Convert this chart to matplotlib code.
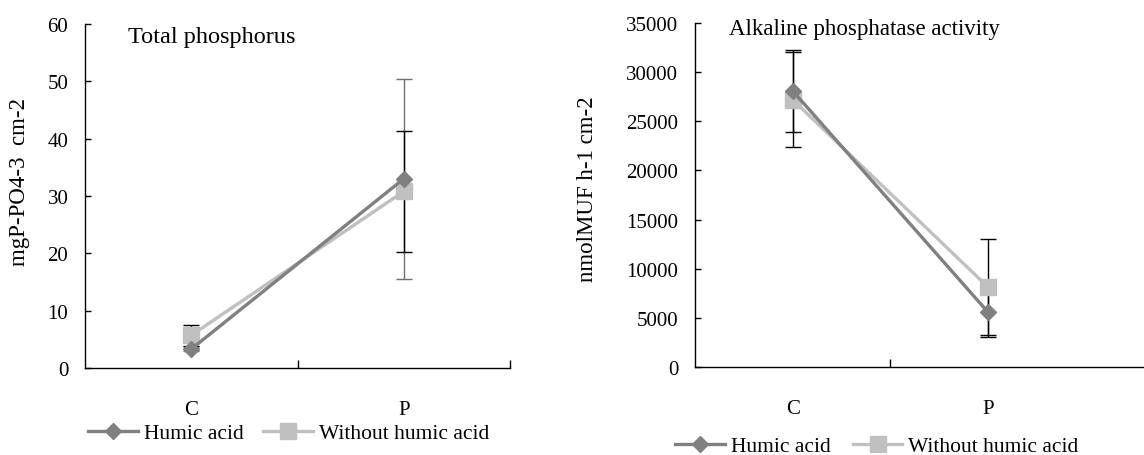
import numpy as np
import matplotlib.pyplot as plt
from matplotlib.lines import Line2D

plt.rcParams['font.family'] = ['Liberation Serif', 'DejaVu Serif']

# categories
cats = ["C", "P"]

# total phosphorus
tp_humic = [3.3, 33.0]
tp_humic_err = [0.3, 17.4]
tp_without = [5.7, 30.8]
tp_without_err = [1.8, 10.6]

# alkaline phosphatase activity
ap_humic = [28100, 5600]
ap_humic_err = [4200, 2550]
ap_without = [27200, 8150]
ap_without_err = [4850, 4900]

DARK = "#808080"
LIGHT = "#c0c0c0"
FS = 15
LW = 2.4

fig = plt.figure(figsize=(11.44, 4.56), dpi=100)
ax1 = fig.add_axes([85 / 1144, 1 - 369 / 456, 425 / 1144, 344 / 456])
ax2 = fig.add_axes([695 / 1144, 1 - 368 / 456, 449 / 1144, 344 / 456])


def draw(ax, hum, hum_err, wo, wo_err, hum_ecol, wo_ecol):
    x = np.arange(len(cats))
    ax.errorbar(x, hum, yerr=hum_err, fmt="none", ecolor=hum_ecol,
                elinewidth=1, capsize=6, capthick=1, zorder=1)
    ax.errorbar(x, wo, yerr=wo_err, fmt="none", ecolor=wo_ecol,
                elinewidth=1, capsize=6, capthick=1, zorder=1)
    ax.plot(x, hum, color=DARK, lw=LW, marker="D", ms=8.5,
            mfc=DARK, mec=DARK, zorder=3)
    ax.plot(x, wo, color=LIGHT, lw=LW, marker="s", ms=12,
            mfc=LIGHT, mec=LIGHT, zorder=2)
    for s in ["top", "right"]:
        ax.spines[s].set_visible(False)
    for s in ["left", "bottom"]:
        ax.spines[s].set_linewidth(1)
    ax.tick_params(axis="y", direction="in", length=4.5, width=1,
                   labelsize=FS, pad=12)
    ax.tick_params(axis="x", direction="in", length=6, width=1,
                   labelsize=FS, pad=23)


draw(ax1, tp_humic, tp_humic_err, tp_without, tp_without_err, "#707070", "black")
ax1.set_xlim(-0.5, 1.5)
ax1.set_ylim(0, 60)
ax1.set_yticks(range(0, 61, 10))
ax1.set_xticks([0.5, 1.5])
ax1.set_xticklabels([])
ax1.set_xticks([0, 1], minor=True)
ax1.set_xticklabels(cats, minor=True)
ax1.tick_params(axis="x", which="minor", length=0, labelsize=FS, pad=23)
ax1.set_ylabel("mgP-PO4-3  cm-2", fontsize=16.5)
ax1.yaxis.set_label_coords(-0.129, 0.544)
ax1.text(0.1, 0.995, "Total phosphorus", transform=ax1.transAxes,
         fontsize=17.5, va="top", ha="left")

draw(ax2, ap_humic, ap_humic_err, ap_without, ap_without_err, "black", "black")
ax2.set_xlim(-0.5, 1.8)
ax2.set_ylim(0, 35000)
ax2.set_yticks(range(0, 35001, 5000))
ax2.set_xticks([0.5])
ax2.set_xticklabels([])
ax2.set_xticks([0, 1], minor=True)
ax2.set_xticklabels(cats, minor=True)
ax2.tick_params(axis="x", which="minor", length=0, labelsize=FS, pad=23)
ax2.set_ylabel("nmolMUF h-1 cm-2", fontsize=16.5)
ax2.yaxis.set_label_coords(-0.215, 0.52)
ax2.text(0.075, 1.015, "Alkaline phosphatase activity", transform=ax2.transAxes,
         fontsize=16.5, va="top", ha="left")

handles = [
    Line2D([], [], color=DARK, lw=LW, marker="D", ms=8.5),
    Line2D([], [], color=LIGHT, lw=LW, marker="s", ms=12),
]
labels = ["Humic acid", "Without humic acid"]
fig.legend(handles, labels, loc="center left", bbox_to_anchor=(88 / 1144, 1 - 434 / 456),
           ncol=2, frameon=False, fontsize=15.5, handlelength=2.3,
           handletextpad=0.28, columnspacing=0.93, borderpad=0, borderaxespad=0)
fig.legend(handles, labels, loc="center left", bbox_to_anchor=(675 / 1144, 1 - 447 / 456),
           ncol=2, frameon=False, fontsize=15.5, handlelength=2.3,
           handletextpad=0.28, columnspacing=1.05, borderpad=0, borderaxespad=0)

fig.savefig("out.png", dpi=100)
